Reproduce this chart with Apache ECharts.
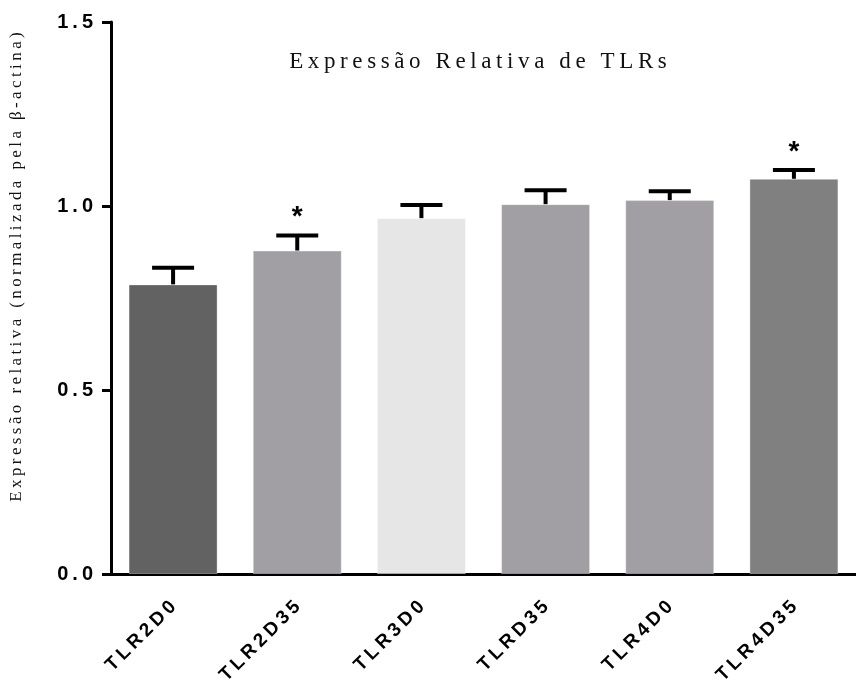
<!DOCTYPE html>
<html>
<head>
<meta charset="utf-8">
<script src="https://cdn.jsdelivr.net/npm/echarts@6/dist/echarts.min.js"></script>
<style>
  html, body { margin: 0; padding: 0; background: #fff; }
  #chart { width: 856px; height: 690px; }
</style>
</head>
<body>
<div id="chart"></div>
<script>
// Relative TLR expression (normalised to beta-actin), mean + SEM
const categories = ['TLR2D0', 'TLR2D35', 'TLR3D0', 'TLRD35', 'TLR4D0', 'TLR4D35'];
const means = [0.787, 0.879, 0.967, 1.005, 1.016, 1.074];
const upperErrors = [0.832, 0.920, 1.003, 1.043, 1.040, 1.098];
const significant = [false, true, false, false, false, true];
const barColors = ['#626262', '#a19fa4', '#e6e6e6', '#a19fa4', '#a19fa4', '#808080'];
const yTicks = [0, 0.5, 1.0, 1.5];

const spaced = (s, sep) => s.split('').join(sep);

const chart = echarts.init(document.getElementById('chart'));

chart.setOption({
  animation: false,
  backgroundColor: '#fff',
  title: {
    text: spaced('Expressão Relativa de TLRs', '\u2009'),
    left: 473,
    top: 45,
    textAlign: 'center',
    textStyle: {
      fontFamily: 'Liberation Serif',
      fontWeight: 'normal',
      fontSize: 23,
      color: '#111'
    }
  },
  grid: {
    left: 108,
    right: -8,
    top: 22,
    bottom: 116,
    containLabel: false
  },
  xAxis: {
    type: 'category',
    data: categories,
    axisLine: { lineStyle: { color: '#000', width: 3 } },
    axisTick: { alignWithLabel: true, length: 9, lineStyle: { color: '#000', width: 3 } },
    axisLabel: {
      rotate: 45,
      margin: 30,
      fontFamily: 'Liberation Sans',
      fontWeight: 'bold',
      fontSize: 19,
      color: '#000',
      formatter: v => spaced(v, '\u2009')
    }
  },
  yAxis: {
    type: 'value',
    min: 0,
    max: 1.5,
    interval: 0.5,
    name: spaced('Expressão relativa (normalizada pela β-actina)', '\u2009'),
    nameLocation: 'middle',
    nameGap: 86,
    nameTextStyle: {
      fontFamily: 'Liberation Serif',
      fontSize: 17,
      color: '#111',
      padding: [0, 0, 0, 62]
    },
    splitLine: { show: false },
    axisLine: { show: true, lineStyle: { color: '#000', width: 3 } },
    axisTick: { show: true, length: 9, lineStyle: { color: '#000', width: 3 } },
    axisLabel: {
      margin: 18,
      fontFamily: 'Liberation Sans',
      fontWeight: 'bold',
      fontSize: 20,
      color: '#000',
      formatter: v => spaced(yTicks.includes(v) ? v.toFixed(1) : '', '\u2009')
    }
  },
  series: [
    {
      type: 'bar',
      barWidth: 89,
      data: means.map((m, i) => ({
        value: m,
        itemStyle: { color: barColors[i], borderColor: 'rgba(255,255,255,0.35)', borderWidth: 1 }
      })),
      z: 2
    },
    {
      // upward error bars with caps, plus significance markers
      type: 'custom',
      z: 3,
      data: categories.map((c, i) => [i, means[i], upperErrors[i], significant[i] ? 1 : 0]),
      renderItem: (params, api) => {
        const i = api.value(0);
        const base = api.coord([i, api.value(1)]);
        const top = api.coord([i, api.value(2)]);
        const half = 21;
        const children = [
          {
            type: 'line',
            shape: { x1: base[0], y1: base[1], x2: top[0], y2: top[1] },
            style: { stroke: '#000', lineWidth: 4 }
          },
          {
            type: 'line',
            shape: { x1: top[0] - half, y1: top[1], x2: top[0] + half, y2: top[1] },
            style: { stroke: '#000', lineWidth: 4 }
          }
        ];
        if (api.value(3)) {
          children.push({
            type: 'text',
            style: {
              text: '*',
              x: top[0],
              y: top[1] - 4,
              align: 'center',
              verticalAlign: 'bottom',
              fontFamily: 'Liberation Sans',
              fontWeight: 'bold',
              fontSize: 28,
              fill: '#000'
            }
          });
        }
        return { type: 'group', children };
      }
    }
  ]
});
</script>
</body>
</html>
